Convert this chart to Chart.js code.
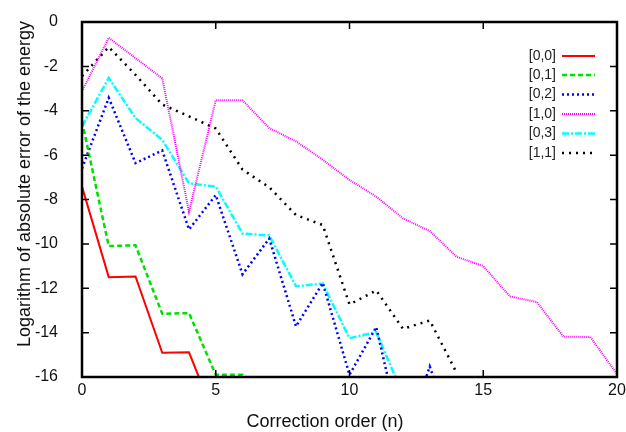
<!DOCTYPE html>
<html>
<head>
<meta charset="utf-8">
<script src="https://cdn.jsdelivr.net/npm/chart.js@4"></script>
<style>
  html, body { margin: 0; padding: 0; background: #fff; }
  canvas { display: block; }
</style>
</head>
<body>
<canvas id="chart" width="626" height="432"></canvas>
<script>
// values, index = correction order n
var orders = [0, 1, 2, 3, 4, 5, 6, 7, 8, 9, 10, 11, 12, 13, 14, 15, 16, 17, 18, 19, 20];
var seriesNames = ['[0,0]', '[0,1]', '[0,2]', '[1,0]', '[0,3]', '[1,1]'];
var err00 = [-7.42, -11.5, -11.47, -14.91, -14.89, -17.9];
var err01 = [-4.48, -10.1, -10.06, -13.15, -13.12, -15.9, -15.9, -18.5];
var err02 = [-6.6, -3.42, -6.36, -5.79, -9.35, -7.8, -11.37, -9.76, -13.72, -11.76, -15.9, -13.75, -19, -15.53, -19];
var err10 = [-3.12, -0.71, -1.63, -2.54, -8.55, -3.53, -3.53, -4.78, -5.38, -6.21, -7.12, -7.87, -8.85, -9.42, -10.58, -11.0, -12.37, -12.62, -14.18, -14.2, -15.86];
var err03 = [-4.7, -2.52, -4.33, -5.31, -7.27, -7.42, -9.53, -9.62, -11.91, -11.79, -14.25, -13.98, -16.8];
var err11 = [-2.44, -1.13, -2.38, -3.72, -4.25, -4.8, -6.65, -7.45, -8.7, -9.15, -12.73, -12.1, -13.83, -13.45, -15.8];
var yTicks = [0, -2, -4, -6, -8, -10, -12, -14, -16];
var xTicks = [0, 5, 10, 15, 20];

function toPoints(values) {
  return values.map(function (v, i) { return { x: orders[i], y: v }; });
}

function makeSet(label, values, color, width, dash) {
  return {
    label: label,
    data: toPoints(values),
    borderColor: color,
    backgroundColor: color,
    borderWidth: width,
    borderDash: dash,
    pointRadius: 0,
    fill: false,
    tension: 0
  };
}

var datasets = [
  makeSet(seriesNames[0], err00, '#ff0000', 2, []),
  makeSet(seriesNames[1], err01, '#00e000', 2.5, [5, 3]),
  makeSet(seriesNames[2], err02, '#0000ff', 2.5, [2, 3]),
  makeSet(seriesNames[3], err10, '#ff00ff', 2, [1, 1]),
  makeSet(seriesNames[4], err03, '#00ffff', 2.5, [7, 2, 2, 2]),
  makeSet(seriesNames[5], err11, '#000000', 2.5, [2, 5])
];

// gnuplot-like frame with inward ticks, legend and axis titles
var framePlugin = {
  id: 'frame',
  afterDatasetsDraw: function (chart) {
    var ctx = chart.ctx;
    var a = chart.chartArea;
    var xs = chart.scales.x, ys = chart.scales.y;
    ctx.save();
    ctx.strokeStyle = '#000';
    ctx.lineWidth = 1.5;
    ctx.setLineDash([]);
    ctx.beginPath();
    xTicks.forEach(function (t) {
      var px = xs.getPixelForValue(t);
      ctx.moveTo(px, a.bottom); ctx.lineTo(px, a.bottom - 7);
      ctx.moveTo(px, a.top); ctx.lineTo(px, a.top + 7);
    });
    yTicks.forEach(function (t) {
      var py = ys.getPixelForValue(t);
      ctx.moveTo(a.left, py); ctx.lineTo(a.left + 7, py);
      ctx.moveTo(a.right, py); ctx.lineTo(a.right - 7, py);
    });
    ctx.stroke();
    ctx.lineWidth = 2.5;
    ctx.strokeRect(a.left, a.top, a.right - a.left, a.bottom - a.top);

    // legend
    ctx.font = '14px "Liberation Sans", Arial, sans-serif';
    ctx.textAlign = 'right';
    ctx.textBaseline = 'middle';
    var rows = [56, 75, 94.5, 114, 133.5, 153];
    chart.data.datasets.forEach(function (ds, i) {
      ctx.fillStyle = '#222';
      ctx.fillText(ds.label, 556, rows[i]);
      ctx.strokeStyle = ds.borderColor;
      ctx.lineWidth = ds.borderWidth;
      ctx.setLineDash(ds.borderDash);
      ctx.beginPath();
      ctx.moveTo(562, rows[i]);
      ctx.lineTo(595, rows[i]);
      ctx.stroke();
    });
    ctx.setLineDash([]);

    // axis titles
    ctx.fillStyle = '#111';
    ctx.font = '18px "Liberation Sans", Arial, sans-serif';
    ctx.textAlign = 'center';
    ctx.fillText('Correction order (n)', 325, 422);
    ctx.translate(25, 184);
    ctx.rotate(-Math.PI / 2);
    ctx.fillText('Logarithm of absolute error of the energy', 0, 0);
    ctx.restore();
  }
};

var chart = new Chart(document.getElementById('chart'), {
  type: 'line',
  data: { datasets: datasets },
  options: {
    responsive: false,
    animation: false,
    devicePixelRatio: 1,
    layout: { padding: { left: 0, right: 9, top: 22, bottom: 0 } },
    plugins: {
      legend: { display: false },
      tooltip: { enabled: false }
    },
    scales: {
      x: {
        type: 'linear',
        min: 0,
        max: 20,
        afterFit: function (scale) {
          scale.height = 55;
          scale.paddingLeft = 0;
          scale.paddingRight = 0;
        },
        afterBuildTicks: function (scale) {
          scale.ticks = xTicks.map(function (v) { return { value: v }; });
        },
        ticks: {
          color: '#111',
          padding: -4,
          maxRotation: 0,
          font: { family: '"Liberation Sans", Arial, sans-serif', size: 16 }
        },
        grid: { display: false },
        border: { display: false }
      },
      y: {
        type: 'linear',
        min: -16,
        max: 0,
        afterFit: function (scale) {
          scale.width = 82;
          scale.paddingTop = 0;
          scale.paddingBottom = 0;
        },
        afterBuildTicks: function (scale) {
          scale.ticks = yTicks.map(function (v) { return { value: v }; });
        },
        ticks: {
          color: '#111',
          padding: 16,
          font: { family: '"Liberation Sans", Arial, sans-serif', size: 16 }
        },
        grid: { display: false },
        border: { display: false }
      }
    }
  },
  plugins: [framePlugin]
});
</script>
</body>
</html>
